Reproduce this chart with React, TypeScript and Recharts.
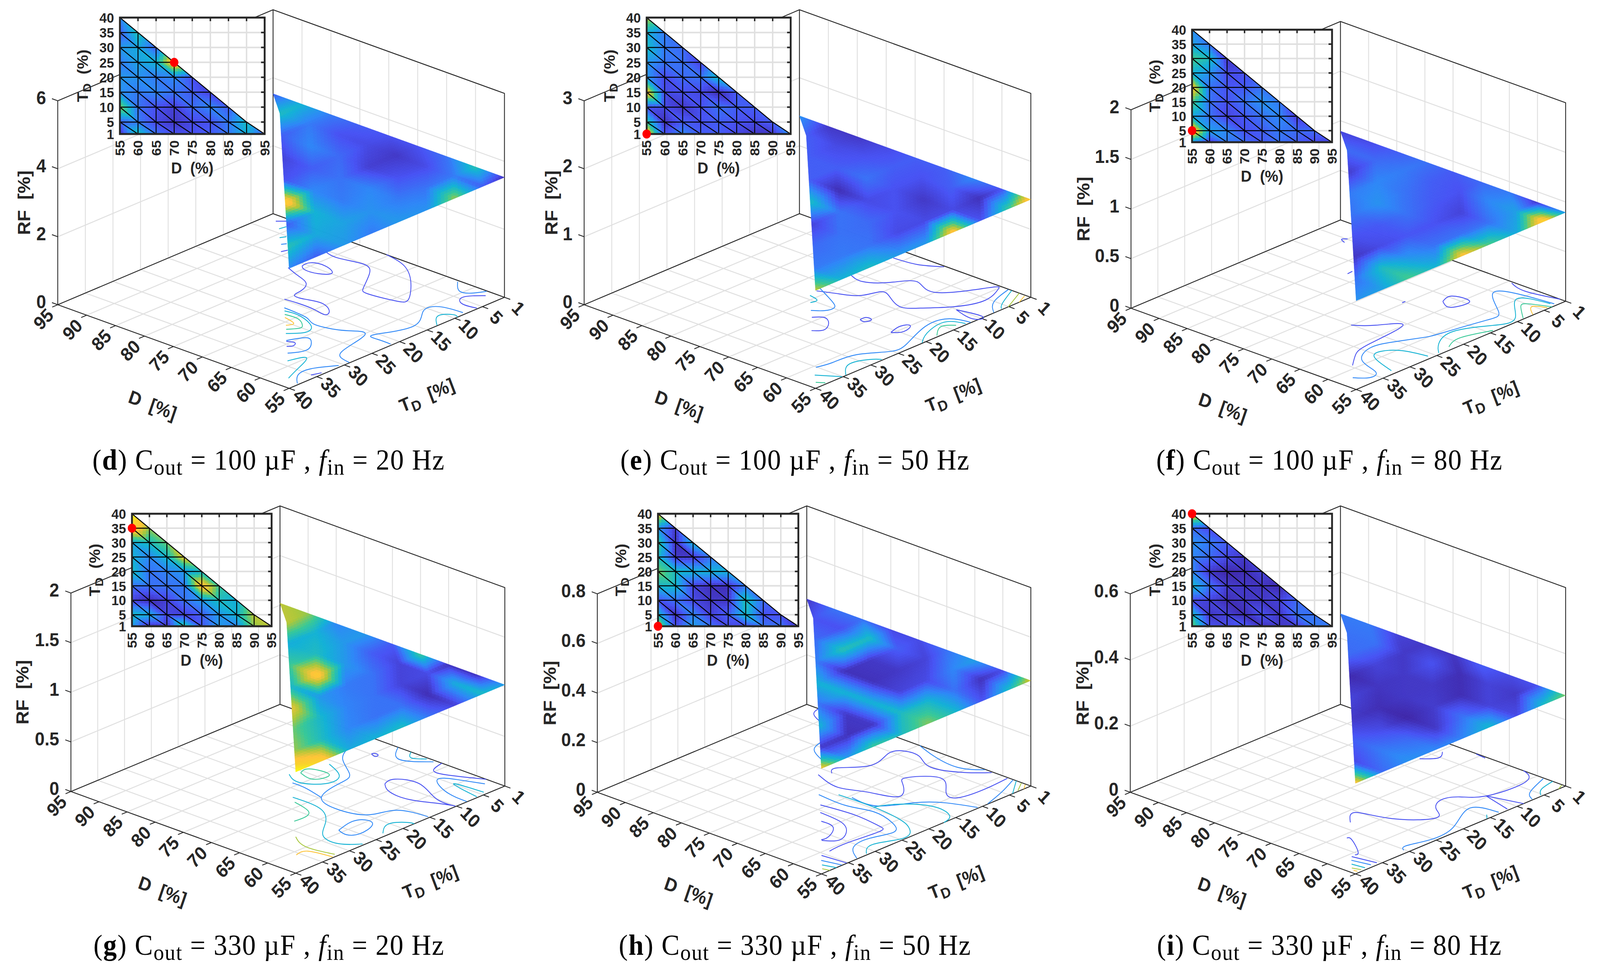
/**
 * RF surfaces over the D / T_D operating triangle, six panels.
 * Each panel: 3D box (projected by hand, drawn through a pixel-domain chart)
 * plus a top-view inset with real D and T_D axes.
 */
import { CartesianGrid, ComposedChart, Line, Scatter, XAxis, YAxis } from "recharts";

const PAGE_W = 4377;
const PAGE_H = 2488;
// the browser caps the window at 4096 px wide, so the page is fitted to it
const FIT_X = 4096 / PAGE_W;
const INK = "#262626";
const GRID = "#e0e0e0";
const SANS = '"Liberation Sans", Arial, sans-serif';

const D_TICKS = [55, 60, 65, 70, 75, 80, 85, 90, 95];
const T_TICKS = [1, 5, 10, 15, 20, 25, 30, 35, 40];

// colour-scale level at every mesh node, rows T = 1, 5, ... 40, columns D = 55, 60, ...
const LEVELS_D = [
  [0.03, 0.45, 0.2, 0.12, 0.12, 0.15, 0.22, 0.38, 0.15],
  [0.15, 0.22, 0.1, 0.05, 0.1, 0.12, 0.22, 0.42],
  [0.6, 0.2, 0.12, 0.07, 0.18, 0.25, 0.15],
  [0.28, 0.22, 0.25, 0.2, 0.15, 0.08],
  [0.3, 0.28, 0.22, 0.25, 0.12],
  [0.22, 0.33, 0.38, 0.85],
  [0.3, 0.35, 0.15],
  [0.15, 0.45],
  [0.25],
];
const LEVELS_E = [
  [0.85, 0.12, 0.25, 0.15, 0.15, 0.1, 0.05, 0.05, 0.28],
  [0.5, 0.03, 0.15, 0.12, 0.15, 0.12, 0.1, 0.15],
  [0.12, 0.1, 0.05, 0.12, 0.2, 0.15, 0.15],
  [0.8, 0.1, 0.12, 0.1, 0.02, 0.15],
  [0.3, 0.1, 0.18, 0.2, 0.42],
  [0.3, 0.2, 0.2, 0.08],
  [0.42, 0.22, 0.18],
  [0.38, 0.22],
  [0.65],
];
const LEVELS_F = [
  [0.3, 0.05, 0.22, 0.18, 0.14, 0.2, 0.15, 0.1, 0.08],
  [0.88, 0.32, 0.25, 0.12, 0.15, 0.22, 0.18, 0.18],
  [0.35, 0.2, 0.08, 0.14, 0.2, 0.25, 0.06],
  [0.52, 0.2, 0.12, 0.2, 0.28, 0.22],
  [0.78, 0.2, 0.13, 0.14, 0.2],
  [0.38, 0.28, 0.1, 0.12],
  [0.52, 0.42, 0.04],
  [0.33, 0.2],
  [0.28],
];
const LEVELS_G = [
  [0.32, 0.03, 0.03, 0.5, 0.14, 0.3, 0.25, 0.6, 0.65],
  [0.42, 0.36, 0.1, 0.08, 0.15, 0.3, 0.38, 0.65],
  [0.08, 0.02, 0.08, 0.2, 0.3, 0.42, 0.36],
  [0.2, 0.2, 0.2, 0.22, 0.82, 0.5],
  [0.42, 0.2, 0.24, 0.3, 0.4],
  [0.38, 0.25, 0.4, 0.72],
  [0.35, 0.42, 0.55],
  [0.85, 0.6],
  [1],
];
const LEVELS_H = [
  [0.7, 0.1, 0.32, 0.2, 0.1, 0.1, 0.2, 0.2, 0.05],
  [0.42, 0.03, 0.25, 0.08, 0.15, 0.42, 0.12, 0.12],
  [0.12, 0.2, 0.1, 0.05, 0.05, 0.45, 0.18],
  [0.4, 0.4, 0.08, 0.03, 0.03, 0.22],
  [0.58, 0.42, 0.38, 0.38, 0.38],
  [0.42, 0.05, 0.05, 0.2],
  [0.5, 0.03, 0.38],
  [0.3, 0.05],
  [0.75],
];
const LEVELS_I = [
  [0.58, 0.12, 0.1, 0.15, 0.04, 0.05, 0.08, 0.22, 0.22],
  [0.42, 0.05, 0.08, 0.02, 0.12, 0.05, 0.2, 0.2],
  [0.1, 0.08, 0.02, 0.05, 0.05, 0.08, 0.18],
  [0.4, 0.2, 0.06, 0.05, 0.04, 0.01],
  [0.25, 0.05, 0, 0.02, 0.08],
  [0.25, 0.18, 0.1, 0.05],
  [0.28, 0.22, 0.15],
  [0.18, 0.1],
  [0.78],
];

// contour lines on the floor: [level, [[D, T], ...]]
type Contour = [number, number[][]];
const CONTOURS_D: Contour[] = [
  [0.12, [[81.7, 12.2], [79.1, 13.2], [76.6, 14.3], [75.4, 16.5], [75, 18.1], [73.2, 18.1], [70.7, 17.6], [68.3, 18.8], [67.9, 20], [70, 19.7], [72.9, 19.6], [75.1, 19.8]]],
  [0.25, [[73.2, 21.8], [69, 22.2], [66.8, 23.1], [63.3, 22.4], [61.1, 21], [59.8, 21.2], [59, 23.8], [58.2, 27.1], [56.9, 28.6], [55.1, 29]]],
  [0.38, [[72.5, 22.5], [70.4, 22.3], [67.4, 23.3], [65.9, 24.7], [66, 26.1], [67.4, 27.6]]],
  [0.5, [[71.7, 23.3], [69.5, 23.2], [67.7, 24.3], [67.3, 25.3], [68.3, 26.6]]],
  [0.75, [[71, 24], [68.9, 24.6], [69.2, 25.7]]],
  [0.25, [[65.8, 29.2], [64.6, 26.9], [63.1, 27.5], [61.8, 29.7], [62.9, 32]]],
  [0.12, [[65.6, 29.4], [64.5, 29], [64, 29.9], [64.5, 30.5]]],
  [0.38, [[61.2, 33.8], [60.1, 31.5], [58.5, 34.8], [57.3, 37.7]]],
  [0.25, [[55.3, 38.2], [57.1, 36.2], [57.3, 33.7], [55.4, 30.6]]],
  [0.12, [[55.9, 35.1], [55.4, 33.7]]],
  [0.12, [[80.8, 10.6], [80.7, 9.2], [78.7, 8.7], [76.4, 9.8], [77.6, 11.1], [79.7, 11.3], [80.8, 10.6]]],
  [0.12, [[81.7, 5.4], [79.1, 5.8], [75.4, 5.1], [72.8, 6.8], [70.3, 10.5], [68.4, 11.6], [64.3, 10.9], [63.6, 9.3], [67.6, 4.8], [71.7, 1.9], [75.4, 1]]],
  [0.25, [[62.8, 1.3], [60.6, 3.3], [59, 2.8], [58, 1.1]]],
  [0.12, [[57.1, 2.2], [58.9, 4.4], [57.6, 6], [55.2, 5.8]]],
  [0.25, [[55.5, 8], [59, 8.6], [59.5, 11], [57.1, 15.4], [58.9, 20.5], [57.6, 21.3], [55.3, 21.3]]],
  [0.38, [[55.1, 13.1], [57.1, 10.8], [56, 9.3], [55, 9.5]]],
  [0.12, [[93.1, 2.5], [92.1, 1.6]]],
  [0.38, [[91.1, 4], [90.9, 2.9]]],
  [0.38, [[89.1, 6], [88.7, 5.2]]],
  [0.25, [[87.5, 7.4], [87.1, 6.8]]],
  [0.12, [[85.9, 9.1], [85.6, 8.2]]],
];
const CONTOURS_E: Contour[] = [
  [0.12, [[76.5, 3.4], [72.8, 2.9], [69.8, 1.2]]],
  [0.12, [[76.4, 17.4], [73.6, 16.2], [71.2, 14.7], [70.2, 12.2], [68.2, 12.7], [65.1, 14.1], [62.9, 12.7], [60.1, 9.6], [58.6, 5.5], [59.8, 1.9], [61.1, 2.4], [64.9, 7.8], [69, 6.9], [71.4, 9.3], [74.1, 11.4], [76.6, 10.9]]],
  [0.25, [[76.9, 16.4], [72.5, 18.6], [71, 19.9], [71.3, 21.3], [72.6, 22.4]]],
  [0.38, [[76, 19], [74.3, 19.5], [74.4, 20.6]]],
  [0.12, [[71, 23.9], [69.8, 22.9], [68.1, 23.9], [67.1, 25.8], [68.1, 27]]],
  [0.12, [[66, 20.4], [65.9, 19.4], [64.9, 19.5], [65.1, 20.5], [66, 20.4]]],
  [0.12, [[60.3, 20.8], [60.8, 18.6], [60, 17.6], [59.3, 19.5], [60.3, 20.8]]],
  [0.12, [[59.2, 10.1], [55.2, 9.5], [55.6, 10.8], [59.2, 10.1]]],
  [0.25, [[55.1, 11.8], [58, 12.9], [58.4, 16.6], [56.3, 22.1], [56.2, 25.3], [58.6, 28.8], [59.1, 32.6], [59.6, 35.1]]],
  [0.38, [[55.3, 12.5], [57.6, 14], [56.8, 17.9], [55.1, 20.6]]],
  [0.5, [[55.8, 13.7], [56.9, 15.3], [55.3, 17.7]]],
  [0.38, [[55.1, 34.4], [57.2, 31.6], [56.3, 28.8], [55.2, 27.8]]],
  [0.38, [[58, 37], [55.1, 35.1]]],
  [0.5, [[56.3, 38.6], [55.3, 37.9]]],
  [0.25, [[58.8, 1.1], [57.4, 5.2], [55.1, 7.6]]],
  [0.38, [[58.3, 1], [56.3, 4.8], [55.2, 6.1]]],
  [0.62, [[57, 1], [55, 5.1]]],
  [0.75, [[55.9, 1.2], [55, 3.1]]],
];
const CONTOURS_F: Contour[] = [
  [0.12, [[64.3, 1.3], [61.1, 2.1], [56, 1]]],
  [0.25, [[55.5, 2.6], [60.3, 3.2], [63.9, 5.1], [59.1, 9.2], [58.3, 12.5], [59.6, 19.1], [60.4, 21.9], [62.3, 25.6], [63.1, 29], [61, 32.6], [57.2, 34.1], [56.4, 36], [58, 37.5]]],
  [0.38, [[55.9, 2.9], [60.2, 4.7], [56.1, 9.2], [56.4, 12.9], [58.9, 17.8], [57.5, 22], [55.4, 24.2]]],
  [0.5, [[55, 3.5], [58.1, 4.9], [58, 6.2], [55.2, 8.7]]],
  [0.75, [[55.3, 4.1], [57, 5.2], [55.1, 7]]],
  [0.5, [[55.3, 14.2], [56.8, 18.8], [55.8, 21.9]]],
  [0.12, [[60.8, 34.6], [63, 31.7], [64.1, 27.9], [65.1, 20.7], [67.7, 23], [70.1, 25.1]]],
  [0.38, [[55.9, 32.5], [60.5, 30.8], [61.3, 28.8], [59.4, 26.8], [55.7, 25.9]]],
  [0.12, [[66.7, 11.6], [67.1, 9.6], [65, 9], [63.9, 9.8], [64.2, 11.7], [65.1, 12.5], [66.7, 11.6]]],
  [0.12, [[70.3, 15.4], [70.3, 14.8]]],
  [0.12, [[90, 4.9], [90.5, 5.5], [89.5, 6]]],
  [0.12, [[82.1, 13.2], [82.2, 12.2]]],
];
const CONTOURS_G: Contour[] = [
  [0.12, [[66.9, 10.9], [67, 8.9], [63.5, 7.9], [58.3, 10.1], [55.2, 10.1], [57.5, 11], [60.9, 12.5], [64.6, 12.4], [66.9, 10.9]]],
  [0.12, [[66.2, 1], [65.4, 3.4], [63.1, 3.4], [58.3, 1]]],
  [0.25, [[74, 1], [71.1, 3.8], [67.3, 1.4]]],
  [0.38, [[71.7, 1], [70.3, 2.4], [68.6, 1.3]]],
  [0.25, [[55.1, 8], [59.2, 7.5], [62.9, 5.3], [61, 3.6], [57.4, 2.2]]],
  [0.38, [[55.2, 6], [60.4, 4.9], [55.6, 4.3]]],
  [0.25, [[55.3, 15], [59.8, 16.2], [61.3, 19.6], [65.3, 21.1], [69.8, 19.7], [71.3, 14.8], [72.4, 11.7], [76.5, 8.7], [78.7, 5.1]]],
  [0.25, [[60.7, 26], [61.4, 22.6], [60.2, 21.1], [58.6, 22], [57.9, 25], [59, 26.4], [60.7, 26]]],
  [0.38, [[55.8, 22.9], [57.4, 20.2], [56, 18.2], [55, 17.9]]],
  [0.38, [[72.6, 22.1], [67.5, 22.4], [63.8, 25.2], [60.9, 28.7], [57.6, 29.2], [55.3, 27.2]]],
  [0.5, [[71.3, 23.1], [67.9, 24.1], [66.9, 25.9], [67, 27.7]]],
  [0.62, [[63.3, 31.3], [60.1, 32.8], [55.6, 32.1]]],
  [0.75, [[59.1, 35.6], [58.9, 33.7], [55.2, 32.9]]],
  [0.25, [[75.9, 18.7], [73.4, 18.8], [69.8, 19.7]]],
  [0.38, [[78.2, 16.9], [75.4, 18], [72.6, 16], [73, 13], [76.7, 11]]],
  [0.5, [[77.4, 15.6], [77.5, 13.9], [74.8, 13.3], [74, 14.6], [75, 16.1], [77.4, 15.6]]],
  [0.12, [[75, 4.9], [74.8, 4.5], [74.1, 4.6], [74.1, 5.2], [75, 4.9]]],
];
const CONTOURS_H: Contour[] = [
  [0.12, [[92.9, 1], [92, 2.8], [89.1, 4.2]]],
  [0.25, [[85, 8.8], [83.9, 11.2], [80.6, 13]]],
  [0.12, [[76.9, 15.2], [77.6, 13.4], [75, 10], [76, 5.7], [75.2, 3.7], [72.4, 3.6], [68.8, 5.2], [64.4, 3.5], [61.8, 1.2]]],
  [0.25, [[74.8, 1], [71, 2.3], [66.2, 2.9], [63.1, 1.1]]],
  [0.12, [[77.9, 16.7], [73.2, 18], [69.3, 16.6], [65.2, 14.9], [67.7, 11.6], [68.7, 9.6], [65.4, 6.9], [61.7, 9.8], [59.3, 10.1], [58.7, 5.7], [59, 1.2]]],
  [0.25, [[58.1, 1.1], [56.4, 5], [55.1, 8.9]]],
  [0.25, [[55.2, 10.7], [59.2, 12.3], [62.3, 15], [65.1, 19], [69.5, 19.2]]],
  [0.25, [[73.3, 21.4], [68, 21.6], [64.1, 20.7], [59.9, 21.7], [57.6, 23.8], [58.5, 27.3], [58, 30.9], [55.2, 33.2]]],
  [0.38, [[71.4, 19.7], [65.2, 19.6], [59.8, 20.3], [56.8, 21.7], [55.3, 24.4], [56.8, 28.5], [55.3, 31.3]]],
  [0.38, [[65.2, 19.6], [63.9, 17.2], [60, 14.4], [56.1, 15], [55, 17.2]]],
  [0.12, [[70.8, 23.7], [65.1, 23.1], [60.5, 23.6], [59.1, 25], [59.6, 30.4], [59.4, 33.9]]],
  [0.12, [[69.1, 25.5], [65.2, 25.9], [62.5, 27.5], [61, 30.3], [62.6, 32]]],
  [0.12, [[67, 27.5], [64.5, 27.9], [62.8, 30.5], [62.8, 31.9]]],
  [0.12, [[59.2, 35.6], [55.1, 35.2]]],
  [0.25, [[58.1, 36.8], [55.1, 36.1]]],
  [0.38, [[57, 37.8], [55, 37.2]]],
  [0.62, [[56.1, 38.7], [55, 38.4]]],
  [0.38, [[57.6, 1], [55, 4.4]]],
  [0.62, [[56.6, 1.1], [55.2, 3.2]]],
  [0.75, [[55.9, 1.1], [55, 2.3]]],
];
const CONTOURS_I: Contour[] = [
  [0.12, [[62.5, 1], [61, 1.6], [59.6, 4.3], [60.3, 10.2], [62.6, 12.7], [63.7, 15], [62.1, 17.6], [60.1, 19.8], [64.1, 23.7], [69, 25.4], [67.2, 28.2]]],
  [0.12, [[60.3, 10.2], [55, 8.8]]],
  [0.12, [[60.3, 10.2], [55.3, 11.5]]],
  [0.25, [[55.4, 13], [59.1, 14.6], [56.3, 20.5], [55.7, 25.6], [56.6, 29], [55.8, 30.2]]],
  [0.38, [[55.1, 15.5], [56, 14.6]]],
  [0.25, [[58.8, 1.2], [57, 5.5], [55.2, 7]]],
  [0.38, [[57.3, 1], [56.6, 3.8], [55.3, 5.3]]],
  [0.62, [[55.6, 1.1], [55, 2.3]]],
  [0.12, [[64, 32.2], [63.1, 32.2], [59.8, 34.5], [59.4, 35.5]]],
  [0.12, [[59.3, 36.2], [55.5, 35.5]]],
  [0.25, [[58.5, 37.1], [55.6, 36.5]]],
  [0.38, [[57.6, 38], [55.5, 37.7]]],
  [0.62, [[56.7, 38.9], [55.4, 38.5]]],
  [0.75, [[56, 39.3], [55.4, 39.2]]],
  [0.12, [[75.1, 7.1], [73.5, 5.3], [74.5, 3.5]]],
  [0.12, [[70.8, 1.1], [69, 1.3]]],
];

// page-pixel layout of each panel, kept apart from the data
const PANELS = [
  { letter: "d", cout: 100, fin: 20, rfTicks: [0, 2, 4, 6], rf: 3.53, levels: LEVELS_D, contours: CONTOURS_D, marker: [70, 25],
    c: [1380, 761], dv: [-633, -214], tv: [-589, 233], h: 522, rfLabelDx: -92, inset: [328, 45, 724, 343], cap: [735, 1200] },
  { letter: "e", cout: 100, fin: 50, rfTicks: [0, 1, 2, 3], rf: 1.44, levels: LEVELS_E, contours: CONTOURS_E, marker: [55, 1],
    c: [2820, 761], dv: [-633, -214], tv: [-589, 233], h: 522, rfLabelDx: -90, inset: [1769, 45, 2163, 343], cap: [2175, 1200] },
  { letter: "f", cout: 100, fin: 80, rfTicks: [0, 0.5, 1, 1.5, 2], rf: 0.895, levels: LEVELS_F, contours: CONTOURS_F, marker: [55, 5],
    c: [4283, 771], dv: [-616, -208], tv: [-573, 226], h: 508, rfLabelDx: -130, inset: [3261, 76, 3644, 364], cap: [3637, 1200] },
  { letter: "g", cout: 330, fin: 20, rfTicks: [0, 0.5, 1, 1.5, 2], rf: 1.02, levels: LEVELS_G, contours: CONTOURS_G, marker: [55, 35],
    c: [1381, 2012], dv: [-615, -209], tv: [-572, 223], h: 508, rfLabelDx: -132, inset: [361, 1315, 743, 1603], cap: [736, 2442] },
  { letter: "h", cout: 330, fin: 50, rfTicks: [0, 0.2, 0.4, 0.6, 0.8], rf: 0.425, levels: LEVELS_H, contours: CONTOURS_H, marker: [55, 1],
    c: [2820, 2012], dv: [-613, -209], tv: [-573, 225], h: 508, rfLabelDx: -130, inset: [1800, 1315, 2184, 1603], cap: [2175, 2442] },
  { letter: "i", cout: 330, fin: 80, rfTicks: [0, 0.2, 0.4, 0.6], rf: 0.274, levels: LEVELS_I, contours: CONTOURS_I, marker: [55, 40],
    c: [4283, 2012], dv: [-616, -209], tv: [-575, 225], h: 508, rfLabelDx: -130, inset: [3261, 1315, 3644, 1603], cap: [3637, 2442] },
];
type Panel = (typeof PANELS)[number];

const PARULA = [
  [62, 38, 168], [71, 82, 244], [45, 135, 247], [18, 177, 214],
  [55, 200, 151], [172, 199, 57], [254, 195, 56], [249, 211, 42], [249, 251, 14],
];

function parula(level: number) {
  const p = Math.min(Math.max(level, 0), 1) * (PARULA.length - 1);
  const i = Math.min(Math.floor(p), PARULA.length - 2);
  const f = p - i;
  const rgb = PARULA[i].map((v, k) => Math.round(v + (PARULA[i + 1][k] - v) * f));
  return `rgb(${rgb.join(",")})`;
}

// triangles of the mesh as node triples [D, T, level]
function meshTriangles(levels: number[][]) {
  const node = (i: number, j: number) => [D_TICKS[i], T_TICKS[j], levels[j][i]];
  const out: number[][][] = [];
  for (let j = 0; j < T_TICKS.length - 1; j++) {
    for (let i = 0; i < levels[j].length - 1; i++) {
      out.push([node(i, j), node(i + 1, j), node(i, j + 1)]);
      if (i + 1 < levels[j + 1].length) out.push([node(i + 1, j), node(i, j + 1), node(i + 1, j + 1)]);
    }
  }
  return out;
}

// interp shading: the triangle is painted in small flat pieces, corners come from payload
function ShadedTriangle({ cx, cy, payload, kx, ky, steps }: any) {
  const [a, b, c] = payload.corners;
  const at = (u: number, v: number) => {
    const w = steps - u - v;
    return [
      cx + ((a[0] * w + b[0] * u + c[0] * v) / steps - a[0]) * kx,
      cy + ((a[1] * w + b[1] * u + c[1] * v) / steps - a[1]) * ky,
    ].join(",");
  };
  const lev = (u: number, v: number) => (a[2] * (steps - u - v) + b[2] * u + c[2] * v) / steps;
  const pieces = [];
  for (let u = 0; u < steps; u++) {
    for (let v = 0; v < steps - u; v++) {
      const col = parula(lev(u + 1 / 3, v + 1 / 3));
      pieces.push(<polygon key={`${u}-${v}`} points={`${at(u, v)} ${at(u + 1, v)} ${at(u, v + 1)}`} fill={col} stroke={col} strokeWidth={0.8} />);
      if (u + v < steps - 1) {
        const col2 = parula(lev(u + 2 / 3, v + 2 / 3));
        pieces.push(<polygon key={`${u}-${v}b`} points={`${at(u + 1, v)} ${at(u, v + 1)} ${at(u + 1, v + 1)}`} fill={col2} stroke={col2} strokeWidth={0.8} />);
      }
    }
  }
  return <g>{pieces}</g>;
}

function AxisText({ cx, cy, payload }: any) {
  const { text, sub, tail, dx = 0, dy = 0, angle = 0, anchor = "middle", size = 48 } = payload;
  const x = cx + dx;
  const y = cy + dy;
  return (
    <text x={x} y={y} transform={`rotate(${angle} ${x} ${y})`} textAnchor={anchor} dominantBaseline="central"
      fontFamily={SANS} fontWeight="bold" fontSize={size} fill={INK} style={{ whiteSpace: "pre" }}>
      {text}
      {sub && <tspan dy={size * 0.28} fontSize={size * 0.78}>{sub}</tspan>}
      {tail && <tspan dy={sub ? -size * 0.28 : 0}>{tail}</tspan>}
    </text>
  );
}

function Box3D({ p }: { p: Panel }) {
  const rfMax = p.rfTicks[p.rfTicks.length - 1];
  const project = (d: number, t: number, rf = 0) => ({
    x: p.c[0] + ((d - 55) / 40) * p.dv[0] + ((t - 1) / 39) * p.tv[0],
    y: p.c[1] + ((d - 55) / 40) * p.dv[1] + ((t - 1) / 39) * p.tv[1] - (rf / rfMax) * p.h,
  });

  const grid: { x: number; y: number }[][] = [];
  D_TICKS.forEach((d) => {
    grid.push([project(d, 1), project(d, 40)]);
    grid.push([project(d, 1), project(d, 1, rfMax)]);
  });
  T_TICKS.forEach((t) => {
    grid.push([project(55, t), project(95, t)]);
    grid.push([project(95, t), project(95, t, rfMax)]);
  });
  p.rfTicks.forEach((rf) => {
    grid.push([project(95, 40, rf), project(95, 1, rf), project(55, 1, rf)]);
  });

  const box = [
    [project(95, 40), project(55, 40), project(55, 1), project(95, 1), project(95, 40)],
    [project(95, 40), project(95, 40, rfMax), project(95, 1, rfMax), project(55, 1, rfMax), project(55, 1)],
    [project(95, 1), project(95, 1, rfMax)],
    ...D_TICKS.map((d) => [project(d, 40), project(d, 41)]),
    ...T_TICKS.map((t) => [project(55, t), project(54, t)]),
    ...p.rfTicks.map((rf) => [project(95, 40, rf), project(96, 40, rf)]),
  ];

  const labels = [
    ...D_TICKS.map((d) => ({ ...project(d, 40), text: String(d), dx: -39, dy: 37, angle: -45 })),
    ...T_TICKS.map((t) => ({ ...project(55, t), text: String(t), dx: 38, dy: 28, angle: 45 })),
    ...p.rfTicks.map((rf) => ({ ...project(95, 40, rf), text: String(rf), dx: -32, dy: -8, anchor: "end" })),
    { ...project(75, 40), text: "D", tail: "  [%]", dx: -57, dy: 150, angle: 20 },
    { ...project(55, 20.5), text: "T", sub: "D", tail: "  [%]", dx: 82, dy: 134, angle: -22 },
    { ...project(95, 40, rfMax / 2), text: "RF", tail: "  [%]", dx: p.rfLabelDx, angle: -90 },
  ];

  const surface = meshTriangles(p.levels).map((tri) => {
    const corners = tri.map(([d, t, l]) => {
      const q = project(d, t, p.rf);
      return [q.x, q.y, l];
    });
    return { x: corners[0][0], y: corners[0][1], corners };
  });

  return (
    <div style={{ position: "absolute", left: 0, top: 0 }}>
      <ComposedChart width={PAGE_W} height={PAGE_H} margin={{ top: 0, right: 0, bottom: 0, left: 0 }}>
        <XAxis type="number" dataKey="x" domain={[0, PAGE_W]} hide />
        <YAxis type="number" dataKey="y" domain={[0, PAGE_H]} reversed hide />
        {grid.map((pts, i) => (
          <Line key={`g${i}`} data={pts} dataKey="y" stroke={GRID} strokeWidth={2.5} dot={false} activeDot={false} isAnimationActive={false} />
        ))}
        {box.map((pts, i) => (
          <Line key={`b${i}`} data={pts} dataKey="y" stroke={INK} strokeWidth={2.2} dot={false} activeDot={false} isAnimationActive={false} />
        ))}
        {p.contours.map(([level, pts], i) => (
          <Line key={`c${i}`} data={pts.map(([d, t]) => project(d, t))} dataKey="y" type="natural" stroke={parula(level)}
            strokeWidth={2.2} dot={false} activeDot={false} isAnimationActive={false} />
        ))}
        <Scatter data={labels} shape={(s: any) => <AxisText {...s} />} isAnimationActive={false} />
        <Scatter data={surface} shape={(s: any) => <ShadedTriangle {...s} kx={1} ky={1} steps={8} />} isAnimationActive={false} />
      </ComposedChart>
    </div>
  );
}

function Inset({ p }: { p: Panel }) {
  const [l, t, r, b] = p.inset;
  const kx = (r - l) / 40;
  const ky = -(b - t) / 39;
  const axisW = 90;
  const base = { top: t, right: PAGE_W - r, bottom: PAGE_H - b - axisW, left: l - axisW };
  const over = { top: t, right: PAGE_W - r, bottom: PAGE_H - b, left: l };

  const heat = meshTriangles(p.levels).map((tri) => ({ d: tri[0][0], t: tri[0][1], corners: tri }));

  const mesh: { d: number; t: number }[][] = [];
  T_TICKS.forEach((tv, j) => {
    if (j < T_TICKS.length - 1) mesh.push([{ d: 55, t: tv }, { d: D_TICKS[8 - j], t: tv }]);
  });
  D_TICKS.forEach((dv, i) => {
    if (i < D_TICKS.length - 1) mesh.push([{ d: dv, t: 1 }, { d: dv, t: T_TICKS[8 - i] }]);
  });
  // diagonals run from (55, T) down to the bottom-right node of the same band
  T_TICKS.forEach((tv, j) => {
    if (j === 0) return;
    const pts = [];
    for (let k = 0; k <= j; k++) pts.push({ d: D_TICKS[k], t: T_TICKS[j - k] });
    mesh.push(pts);
  });
  const frame = [{ d: 55, t: 1 }, { d: 95, t: 1 }, { d: 95, t: 40 }, { d: 55, t: 40 }, { d: 55, t: 1 }];
  const stubs = [
    ...D_TICKS.map((d) => [{ d, t: 40 }, { d, t: 38.8 }]),
    ...T_TICKS.map((tv) => [{ d: 95, t: tv }, { d: 94, t: tv }]),
  ];
  const titles = [
    { d: 75, t: 1, text: "D", tail: "  (%)", dy: 87, size: 41 },
    { d: 55, t: 20.5, text: "T", sub: "D", tail: "  (%)", dx: -102, angle: -90, size: 41 },
  ];

  return (
    <>
      <div style={{ position: "absolute", left: 0, top: 0 }}>
        <ComposedChart width={PAGE_W} height={PAGE_H} margin={base}>
          <CartesianGrid stroke={GRID} strokeWidth={4} fill="#fff" fillOpacity={1} />
          <XAxis type="number" dataKey="d" domain={[55, 95]} ticks={D_TICKS} interval={0} height={axisW} axisLine={false} tickLine={false}
            tick={(a: any) => (
              <text x={a.x} y={b + 16} transform={`rotate(-90 ${a.x} ${b + 16})`} textAnchor="end" dominantBaseline="central"
                fontFamily={SANS} fontWeight="bold" fontSize={36} fill={INK}>{a.payload.value}</text>
            )} />
          <YAxis type="number" dataKey="t" domain={[1, 40]} ticks={T_TICKS} interval={0} width={axisW} axisLine={false} tickLine={false}
            tick={(a: any) => (
              <text x={l - 16} y={a.y} textAnchor="end" dominantBaseline="central"
                fontFamily={SANS} fontWeight="bold" fontSize={36} fill={INK}>{a.payload.value}</text>
            )} />
          <Scatter data={heat} shape={(s: any) => <ShadedTriangle {...s} kx={kx} ky={ky} steps={5} />} isAnimationActive={false} />
        </ComposedChart>
      </div>
      <div style={{ position: "absolute", left: 0, top: 0 }}>
        <ComposedChart width={PAGE_W} height={PAGE_H} margin={over}>
          <XAxis type="number" dataKey="d" domain={[55, 95]} hide />
          <YAxis type="number" dataKey="t" domain={[1, 40]} hide />
          {mesh.map((pts, i) => (
            <Line key={`m${i}`} data={pts} dataKey="t" stroke="#000" strokeWidth={2.5} dot={false} activeDot={false} isAnimationActive={false} />
          ))}
          {stubs.map((pts, i) => (
            <Line key={`s${i}`} data={pts} dataKey="t" stroke={INK} strokeWidth={4} dot={false} activeDot={false} isAnimationActive={false} />
          ))}
          <Line data={frame} dataKey="t" stroke={INK} strokeWidth={5} strokeLinecap="square" dot={false} activeDot={false} isAnimationActive={false} />
          <Scatter data={titles} shape={(s: any) => <AxisText {...s} />} isAnimationActive={false} />
          <Scatter data={[{ d: p.marker[0], t: p.marker[1] }]} isAnimationActive={false}
            shape={(s: any) => <circle cx={s.cx} cy={s.cy} r={11.5} fill="#ff0000" />} />
        </ComposedChart>
      </div>
    </>
  );
}

function Caption({ p }: { p: Panel }) {
  const sub = { fontSize: "0.78em", lineHeight: 0, verticalAlign: "-0.22em" };
  return (
    <div style={{ position: "absolute", left: p.cap[0], top: p.cap[1] - 60, transform: "translateX(-50%)", lineHeight: 1,
      fontFamily: '"Liberation Serif", serif', fontSize: 74, letterSpacing: 2, whiteSpace: "nowrap", color: "#000" }}>
      (<b>{p.letter}</b>) C<span style={sub}>out</span> = {p.cout} µF , <i>f</i><span style={sub}>in</span> = {p.fin} Hz
    </div>
  );
}

export default function App() {
  return (
    <div style={{ position: "absolute", left: 0, top: 0, width: PAGE_W, height: PAGE_H, background: "#fff", overflow: "hidden",
      transform: `scaleX(${FIT_X})`, transformOrigin: "0 0" }}>
      {PANELS.map((p) => (
        <div key={p.letter}>
          <Box3D p={p} />
          <Inset p={p} />
          <Caption p={p} />
        </div>
      ))}
    </div>
  );
}
